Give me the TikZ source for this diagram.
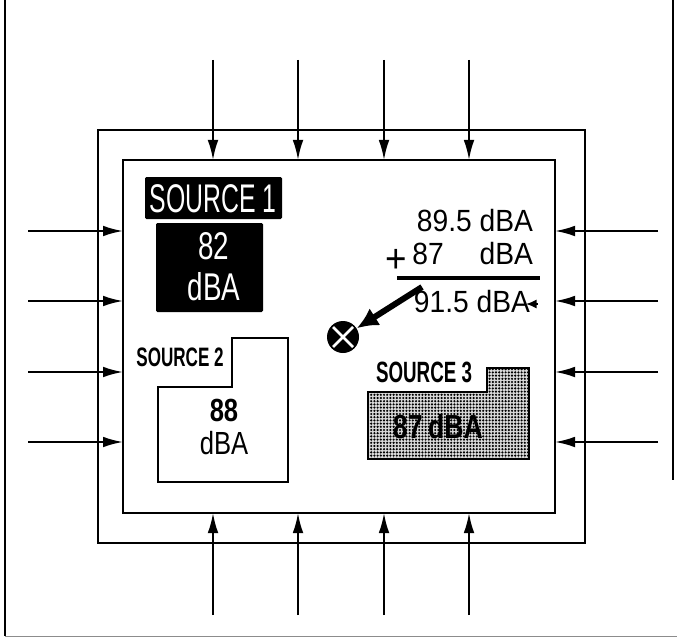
\documentclass[tikz,border=0pt]{standalone}
\usepackage{fontspec}
\usetikzlibrary{arrows.meta,patterns}
\newfontfamily\labA{Liberation Sans}[FakeStretch=0.62]
\newfontfamily\labB{Liberation Sans}[FakeStretch=0.72]
\newfontfamily\labC{Liberation Sans Bold}[FakeStretch=0.64]
\newfontfamily\labD{Liberation Sans}[FakeStretch=0.80]
\newfontfamily\labF{Liberation Sans Bold}[FakeStretch=0.80]
\newfontfamily\labE{Liberation Sans}[FakeStretch=0.92]
\pgfdeclarepatternformonly{bigdots}{\pgfqpoint{-1pt}{-1pt}}{\pgfqpoint{3.4pt}{3.4pt}}{\pgfqpoint{2.4pt}{2.4pt}}{%
  \pgfpathcircle{\pgfqpoint{0pt}{0pt}}{0.9pt}\pgfusepath{fill}}
\tikzset{
  frameline/.style={line width=1.6pt},
  boxline/.style={line width=2.2pt},
  inarrow/.style={line width=1.5pt,-{Latex[length=15pt,width=8pt]}},
  txt/.style={inner sep=0pt,outer sep=0pt},
}
\begin{document}
\begin{tikzpicture}[x=0.75pt,y=-0.75pt]
\useasboundingbox (0,0) rectangle (677,638);
% frame
\draw[frameline] (5,0) -- (5,636);
\draw[line width=0.6pt,black!45] (5,636) -- (677,636);
\draw[line width=1.4pt] (673,0) -- (673,480);
% boxes
\coordinate (oNW) at (98,130); \coordinate (oSE) at (585,543);
\coordinate (iNW) at (123,160); \coordinate (iSE) at (555,513);
\draw[boxline] (oNW) rectangle (oSE);
\draw[boxline] (iNW) rectangle (iSE);
% top and bottom arrows
\foreach \i/\x in {1/213,2/298,3/384,4/469}{
  \coordinate (ts\i) at (\x,60); \coordinate (te\i) at (\x,160);
  \coordinate (bs\i) at (\x,615); \coordinate (be\i) at (\x,513);
  \draw[inarrow] (ts\i) -- (te\i);
  \draw[inarrow] (bs\i) -- (be\i);
}
% left and right arrows
\foreach \i/\y in {1/231,2/301,3/372,4/442}{
  \coordinate (ls\i) at (28,\y); \coordinate (le\i) at (123,\y);
  \coordinate (rs\i) at (658,\y); \coordinate (re\i) at (555,\y);
  \draw[inarrow] (ls\i) -- (le\i);
  \draw[inarrow] (rs\i) -- (re\i);
}
% source 1
\fill[rounded corners=1pt] (145,177) rectangle (282,219);
\node[txt,text=white,font=\labA\fontsize{30}{30}\selectfont] (s1lab) at (213,199) {SOURCE 1};
\fill[rounded corners=1pt] (156,223) rectangle (263,312);
\node[txt,text=white,font=\labB\fontsize{29}{29}\selectfont] (s1a) at (214,246) {82};
\node[txt,text=white,font=\labB\fontsize{29}{29}\selectfont] (s1b) at (214,287) {dBA};
% source 2
\draw[line width=2pt,fill=white] (232,338) -- (288,338) -- (288,482) -- (158,482) -- (158,387) -- (232,387) -- cycle;
\node[txt,font=\labC\fontsize{20}{20}\selectfont] (s2lab) at (180,357) {SOURCE 2};
\node[txt,font=\labF\fontsize{24}{24}\selectfont] (s2a) at (224,410) {88};
\node[txt,font=\labD\fontsize{24}{24}\selectfont] (s2b) at (224,443) {dBA};
% source 3
\path[fill=black!15] (487,368) -- (529,368) -- (529,459) -- (368,459) -- (368,392) -- (487,392) -- cycle;
\path[pattern=bigdots] (487,368) -- (529,368) -- (529,459) -- (368,459) -- (368,392) -- (487,392) -- cycle;
\draw[line width=2pt] (487,368) -- (529,368) -- (529,459) -- (368,459) -- (368,392) -- (487,392) -- cycle;
\node[txt,font=\labC\fontsize{22}{22}\selectfont] (s3lab) at (424,372) {SOURCE 3};
\node[txt,font=\labF\fontsize{25}{25}\selectfont] (s3a) at (438,427) {87\,dBA};
% sum
\node[txt,anchor=east,font=\labE\fontsize{23}{23}\selectfont] (n1) at (533,221) {89.5 dBA};
\node[txt,font=\labE\fontsize{23}{23}\selectfont] (n2a) at (428,254) {87};
\node[txt,anchor=east,font=\labE\fontsize{23}{23}\selectfont] (n2b) at (533,254) {dBA};
\node[txt,font=\labE\fontsize{30}{30}\selectfont] (plus) at (396,261) {+};
\coordinate (rl) at (397,278); \coordinate (rr) at (540,278);
\draw[line width=2.4pt] (rl) -- (rr);
\node[txt,anchor=east,font=\labE\fontsize{23}{23}\selectfont] (n3) at (530,302) {91.5 dBA};
\coordinate (tipS) at (538,304); \coordinate (tipE) at (526,304);
\draw[line width=1.2pt,-{Latex[length=8pt,width=7pt]}] (tipS) -- (tipE);
% measurement point
\node[circle,fill=black,minimum size=24pt,inner sep=0pt] (mp) at (343,337) {};
\draw[white,line width=2pt] ([shift={(-10,-10)}]mp.center) -- ([shift={(10,10)}]mp.center);
\draw[white,line width=2pt] ([shift={(-10,10)}]mp.center) -- ([shift={(10,-10)}]mp.center);
\coordinate (as) at (422,287);
\draw[line width=4.5pt,-{Latex[length=16pt,width=15pt]}] (as) -- (mp);
\end{tikzpicture}
\end{document}
